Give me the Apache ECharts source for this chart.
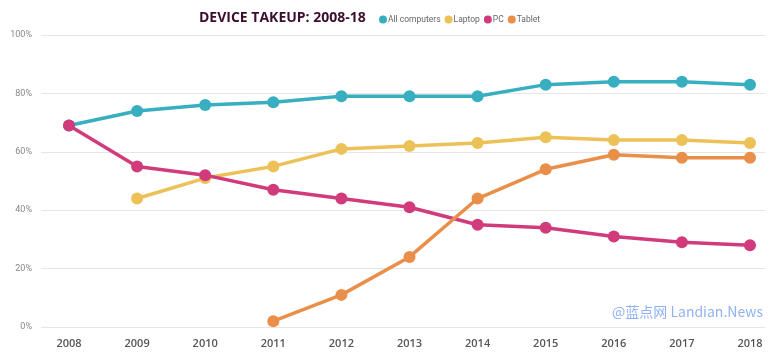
<!DOCTYPE html>
<html><head><meta charset="utf-8">
<script src="https://cdn.jsdelivr.net/npm/echarts@6/dist/echarts.min.js"></script>
<style>html,body{margin:0;padding:0;background:#fff}#c{width:777px;height:359px}</style>
</head><body><div id="c"></div>
<script>
const years = ['2008','2009','2010','2011','2012','2013','2014','2015','2016','2017','2018'];
const allComputers = [69,74,76,77,79,79,79,83,84,84,83];
const laptop = [null,44,51,55,61,62,63,65,64,64,63];
const pc = [69,55,52,47,44,41,35,34,31,29,28];
const tablet = [null,null,null,2,11,24,44,54,59,58,58];
const yTicks = [0,20,40,60,80,100];
const colors = ['#38aec1','#ecc157','#d13b7b','#e98f49'];
const names = ['All computers','Laptop','PC','Tablet'];
const seriesData = [allComputers, laptop, pc, tablet];

const chart = echarts.init(document.getElementById('c'));
const gTop = 35, gBottom = 32;
chart.setOption({
  animation:false,
  color: colors,
  title:{text:'DEVICE TAKEUP: 2008-18', left:194, top:6,
    textStyle:{fontFamily:'Open Sans', fontWeight:'bold', fontSize:14, color:'#3b0d2e'}},
  legend:{left:374, top:10, icon:'circle', itemWidth:8, itemHeight:8, itemGap:4,
    textStyle:{fontFamily:'Roboto', fontSize:8.5, color:'#666', padding:[0,0,0,-4]},
    data:names},
  grid:[
    {left:41, right:12, top:gTop, bottom:gBottom},
    {left:69, right:27, top:gTop, bottom:gBottom}
  ],
  xAxis:[
    {gridIndex:0, type:'value', min:0, max:1, show:false},
    {gridIndex:1, type:'category', data:years, boundaryGap:false,
     axisLine:{show:false}, axisTick:{show:false},
     axisLabel:{margin:11, fontFamily:'Open Sans', fontWeight:600, fontSize:11, color:'#555'}}
  ],
  yAxis:[
    {gridIndex:0, type:'value', min:0, max:100, interval:20,
     axisLine:{show:false}, axisTick:{show:false},
     axisLabel:{formatter:v=>v+'%', fontFamily:'Roboto', fontSize:9, color:'#888', margin:9},
     splitLine:{lineStyle:{color:'#e6e6e6', width:1}}},
    {gridIndex:1, type:'value', min:0, max:100, show:false}
  ],
  graphic:[{type:'text', right:14, top:305,
    style:{text:'@蓝点网 Landian.News', font:'14px "Noto Sans CJK SC"', fill:'#90b2f2'}}],
  series: seriesData.map((d,i)=>({
    name:names[i], type:'line', xAxisIndex:1, yAxisIndex:1, data:d,
    symbol:'circle', symbolSize:12, lineStyle:{width:3.5, color:colors[i]},
    itemStyle:{color:colors[i]}
  }))
});
</script></body></html>
